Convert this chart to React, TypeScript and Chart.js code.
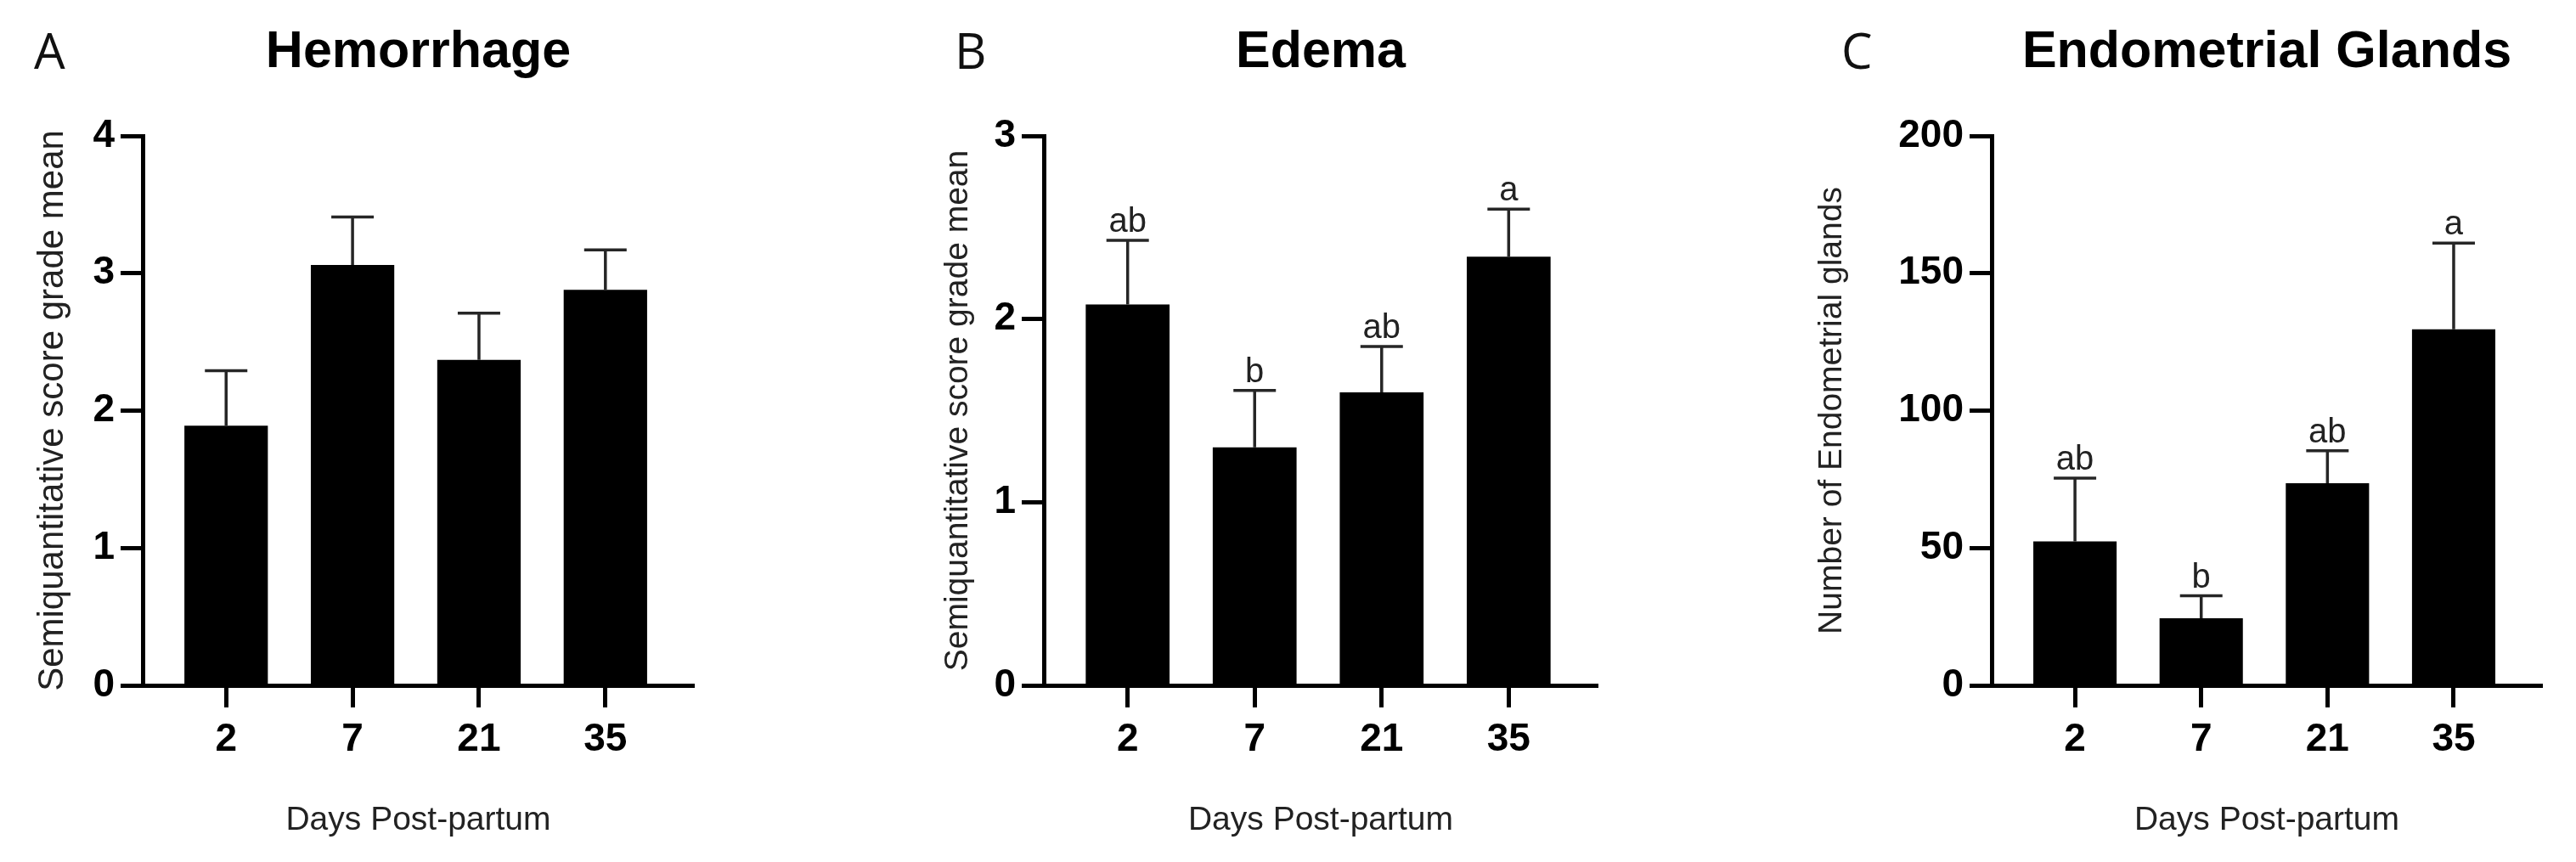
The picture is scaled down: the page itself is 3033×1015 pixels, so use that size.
import React, { useEffect, useRef } from "react";
import { Chart, registerables } from "chart.js";

Chart.register(...registerables);

const FONT = "'Liberation Sans', Arial, Helvetica, sans-serif";

// ---- data ----
const days = ["2", "7", "21", "35"];

const hemorrhageMean = [1.89, 3.06, 2.37, 2.88];
const hemorrhageSem = [0.4, 0.35, 0.34, 0.29];
const hemorrhageLetters = ["", "", "", ""];

const edemaMean = [2.08, 1.3, 1.6, 2.34];
const edemaSem = [0.35, 0.31, 0.25, 0.26];
const edemaLetters = ["ab", "b", "ab", "a"];

const glandsMean = [52.4, 24.4, 73.6, 129.6];
const glandsSem = [23.0, 8.2, 11.8, 31.4];
const glandsLetters = ["ab", "b", "ab", "a"];

type Panel = {
  letter: string;
  title: string;
  yTitle: string;
  yTitleSize: number;
  yTitleCenter: number;
  mean: number[];
  sem: number[];
  letters: string[];
  yMax: number;
  yStep: number;
  left: number;
  width: number;
  axisLeft: number;
  axisRight: number;
  letterX: number;
};

const panels: Panel[] = [
  {
    letter: "A",
    title: "Hemorrhage",
    yTitle: "Semiquantitative score grade mean",
    yTitleSize: 42,
    yTitleCenter: 62,
    mean: hemorrhageMean,
    sem: hemorrhageSem,
    letters: hemorrhageLetters,
    yMax: 4,
    yStep: 1,
    left: 0,
    width: 1000,
    axisLeft: 168,
    axisRight: 817,
    letterX: 40,
  },
  {
    letter: "B",
    title: "Edema",
    yTitle: "Semiquantitative score grade mean",
    yTitleSize: 39,
    yTitleCenter: 128,
    mean: edemaMean,
    sem: edemaSem,
    letters: edemaLetters,
    yMax: 3,
    yStep: 1,
    left: 1000,
    width: 1030,
    axisLeft: 229,
    axisRight: 881,
    letterX: 124,
  },
  {
    letter: "C",
    title: "Endometrial Glands",
    yTitle: "Number of Endometrial glands",
    yTitleSize: 39,
    yTitleCenter: 127,
    mean: glandsMean,
    sem: glandsSem,
    letters: glandsLetters,
    yMax: 200,
    yStep: 50,
    left: 2030,
    width: 1003,
    axisLeft: 315,
    axisRight: 963,
    letterX: 138,
  },
];

const H = 1015;
const AXIS_BOTTOM = 807;
const AXIS_TOP = 160;

function makeAnnotPlugin(p: Panel) {
  return {
    id: "annot" + p.letter,
    afterDatasetsDraw(chart: any) {
      const { ctx } = chart;
      const x = chart.scales.x;
      const y = chart.scales.y;
      ctx.save();
      ctx.strokeStyle = "#262626";
      ctx.lineWidth = 3.5;
      ctx.lineCap = "butt";
      p.mean.forEach((m, i) => {
        const px = x.getPixelForValue(i);
        const y0 = y.getPixelForValue(m);
        const y1 = y.getPixelForValue(m + p.sem[i]);
        ctx.beginPath();
        ctx.moveTo(px, y0);
        ctx.lineTo(px, y1);
        ctx.moveTo(px - 25, y1);
        ctx.lineTo(px + 25, y1);
        ctx.stroke();
        const lab = p.letters[i];
        if (lab) {
          ctx.fillStyle = "#222";
          ctx.font = `40px ${FONT}`;
          ctx.textAlign = "center";
          ctx.textBaseline = "alphabetic";
          ctx.fillText(lab, px, y1 - 10);
        }
      });
      ctx.restore();
    },
    afterDraw(chart: any) {
      const { ctx } = chart;
      ctx.save();
      ctx.fillStyle = "#111";
      ctx.font = `400 58px 'Open Sans', 'Noto Sans', sans-serif`;
      ctx.textAlign = "left";
      ctx.textBaseline = "alphabetic";
      ctx.fillText(p.letter, p.letterX, 81);
      ctx.restore();
    },
  };
}

function PanelChart({ p }: { p: Panel }) {
  const ref = useRef<HTMLCanvasElement | null>(null);
  useEffect(() => {
    if (!ref.current) return;
    const chart = new Chart(ref.current, {
      type: "bar",
      data: {
        datasets: [
          {
            data: p.mean.map((v, i) => ({ x: i, y: v })),
            backgroundColor: "#000",
            borderWidth: 0,
            barPercentage: 0.66,
            categoryPercentage: 1,
          },
        ],
      },
      options: {
        animation: false,
        responsive: false,
        devicePixelRatio: 1,
        layout: {
          padding: { left: 0, top: 0, bottom: 0, right: p.width - p.axisRight },
        },
        plugins: {
          legend: { display: false },
          tooltip: { enabled: false },
          title: {
            display: true,
            text: p.title,
            fullSize: false,
            color: "#000",
            font: { family: FONT, size: 61, weight: "bold", lineHeight: 1 },
            padding: { top: 32, bottom: AXIS_TOP - 32 - 61 },
          },
        },
        scales: {
          x: {
            type: "linear",
            offset: false,
            min: -0.66,
            max: 3.7,
            afterBuildTicks: (s: any) => {
              s.ticks = days.map((_, i) => ({ value: i }));
            },
            afterFit: (s: any) => {
              s.height = H - AXIS_BOTTOM;
            },
            grid: {
              display: true,
              offset: false,
              drawOnChartArea: false,
              drawTicks: true,
              tickLength: 26,
              tickWidth: 5,
              tickColor: "#000",
            },
            border: { display: true, color: "#000", width: 5 },
            ticks: {
              color: "#000",
              font: { family: FONT, size: 46, weight: "bold", lineHeight: 1 },
              padding: 15,
              maxRotation: 0,
              autoSkip: false,
              callback: (v: any) => days[Math.round(Number(v))] ?? "",
            },
            title: {
              display: true,
              text: "Days Post-partum",
              color: "#222",
              font: { family: FONT, size: 39, lineHeight: 1 },
              padding: { top: 0, bottom: 29 },
            },
          },
          y: {
            type: "linear",
            min: 0,
            max: p.yMax,
            afterFit: (s: any) => {
              s.width = p.axisLeft;
            },
            grid: {
              display: true,
              drawOnChartArea: false,
              drawTicks: true,
              tickLength: 26,
              tickWidth: 5,
              tickColor: "#000",
            },
            border: { display: true, color: "#000", width: 5 },
            ticks: {
              stepSize: p.yStep,
              color: "#000",
              font: { family: FONT, size: 46, weight: "bold", lineHeight: 1 },
              padding: 7,
            },
            title: {
              display: true,
              text: p.yTitle,
              color: "#222",
              font: { family: FONT, size: p.yTitleSize, lineHeight: 1 },
              padding: { top: p.yTitleCenter - p.yTitleSize / 2, bottom: 0 },
            },
          },
        },
      },
      plugins: [makeAnnotPlugin(p)],
    } as any);
    return () => chart.destroy();
  }, [p]);
  return (
    <canvas
      ref={ref}
      width={p.width}
      height={H}
      style={{ position: "absolute", left: p.left, top: 0, width: p.width, height: H, display: "block" }}
    />
  );
}

export default function App() {
  return (
    <div
      style={{
        position: "absolute",
        left: 0,
        top: 0,
        width: 3033,
        height: H,
        background: "#fff",
        overflow: "hidden",
      }}
    >
      {panels.map((p) => (
        <PanelChart key={p.letter} p={p} />
      ))}
    </div>
  );
}
